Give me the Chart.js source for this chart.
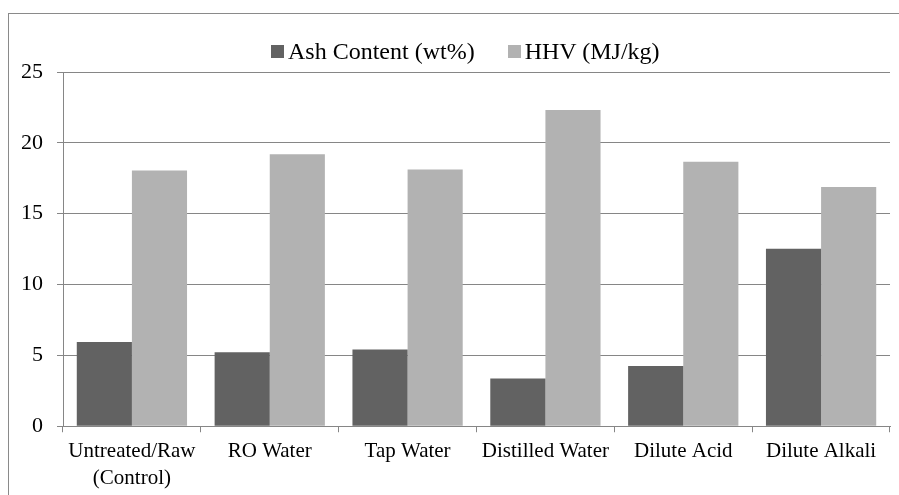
<!DOCTYPE html>
<html>
<head>
<meta charset="utf-8">
<script src="https://cdn.jsdelivr.net/npm/chart.js@4.4.1/dist/chart.umd.min.js"></script>
<style>
  body { margin: 0; background: #fff; }
  #wrap { position: relative; width: 899px; height: 495px; }
  #frame { position: absolute; left: 8px; top: 13px; right: 0; bottom: 0;
           border-top: 1px solid #8a8a8a; border-left: 1px solid #8a8a8a; pointer-events: none; }
  #legend { position: absolute; left: 271px; top: 39px; height: 24px; display: flex; align-items: center;
            font-family: 'Liberation Serif', serif; font-size: 24px; line-height: 24px; color: #000; }
  #legend .item { display: flex; align-items: center; margin-right: 33px; }
  #legend .item:last-child { margin-right: 0; }
  #legend .box { width: 13px; height: 13px; margin-right: 4px; }
</style>
</head>
<body>
<div id="wrap">
  <canvas id="ashChart" width="899" height="495"></canvas>
  <div id="legend"></div>
  <div id="frame"></div>
</div>
<script>
// data
var categories = [['Untreated/Raw', '(Control)'], 'RO Water', 'Tap Water', 'Distilled Water', 'Dilute Acid', 'Dilute Alkali'];
var ashContent = [5.95, 5.22, 5.41, 3.37, 4.25, 12.53];
var hhv = [18.05, 19.2, 18.12, 22.32, 18.66, 16.89];
var seriesNames = ['Ash Content (wt%)', 'HHV (MJ/kg)'];
var seriesColors = ['#626262', '#b2b2b2'];

var axisGrey = '#868686';

var ctx = document.getElementById('ashChart').getContext('2d');
var ashChart = new Chart(ctx, {
    type: 'bar',
    data: {
        labels: categories,
        datasets: [{
            label: seriesNames[0],
            data: ashContent,
            backgroundColor: seriesColors[0],
            borderWidth: 0
        }, {
            label: seriesNames[1],
            data: hhv,
            backgroundColor: seriesColors[1],
            borderWidth: 0
        }]
    },
    options: {
        responsive: false,
        animation: false,
        categoryPercentage: 0.8,
        barPercentage: 1.0,
        layout: { padding: { left: 7, right: 9, top: 72, bottom: -3 } },
        plugins: {
            tooltip: { enabled: false },
            legend: { display: false }
        },
        scales: {
            x: {
                grid: {
                    offset: true,
                    drawOnChartArea: false,
                    drawTicks: true,
                    tickLength: 6,
                    color: axisGrey
                },
                border: { color: axisGrey, width: 1 },
                ticks: {
                    color: '#000',
                    font: { family: 'Liberation Serif', size: 21, lineHeight: 1.28 },
                    padding: 6,
                    maxRotation: 0,
                    autoSkip: false
                }
            },
            y: {
                min: 0,
                max: 25,
                grid: {
                    color: axisGrey,
                    tickLength: 6
                },
                border: { color: axisGrey, width: 1 },
                ticks: {
                    stepSize: 5,
                    color: '#000',
                    font: { family: 'Liberation Serif', size: 22 },
                    padding: 14
                }
            }
        }
    }
});

// legend drawn as html, built from the same dataset names/colours
var legendEl = document.getElementById('legend');
ashChart.data.datasets.forEach(function(ds) {
    var item = document.createElement('div');
    item.className = 'item';
    var box = document.createElement('span');
    box.className = 'box';
    box.style.background = ds.backgroundColor;
    var txt = document.createElement('span');
    txt.textContent = ds.label;
    item.appendChild(box);
    item.appendChild(txt);
    legendEl.appendChild(item);
});
</script>
</body>
</html>
